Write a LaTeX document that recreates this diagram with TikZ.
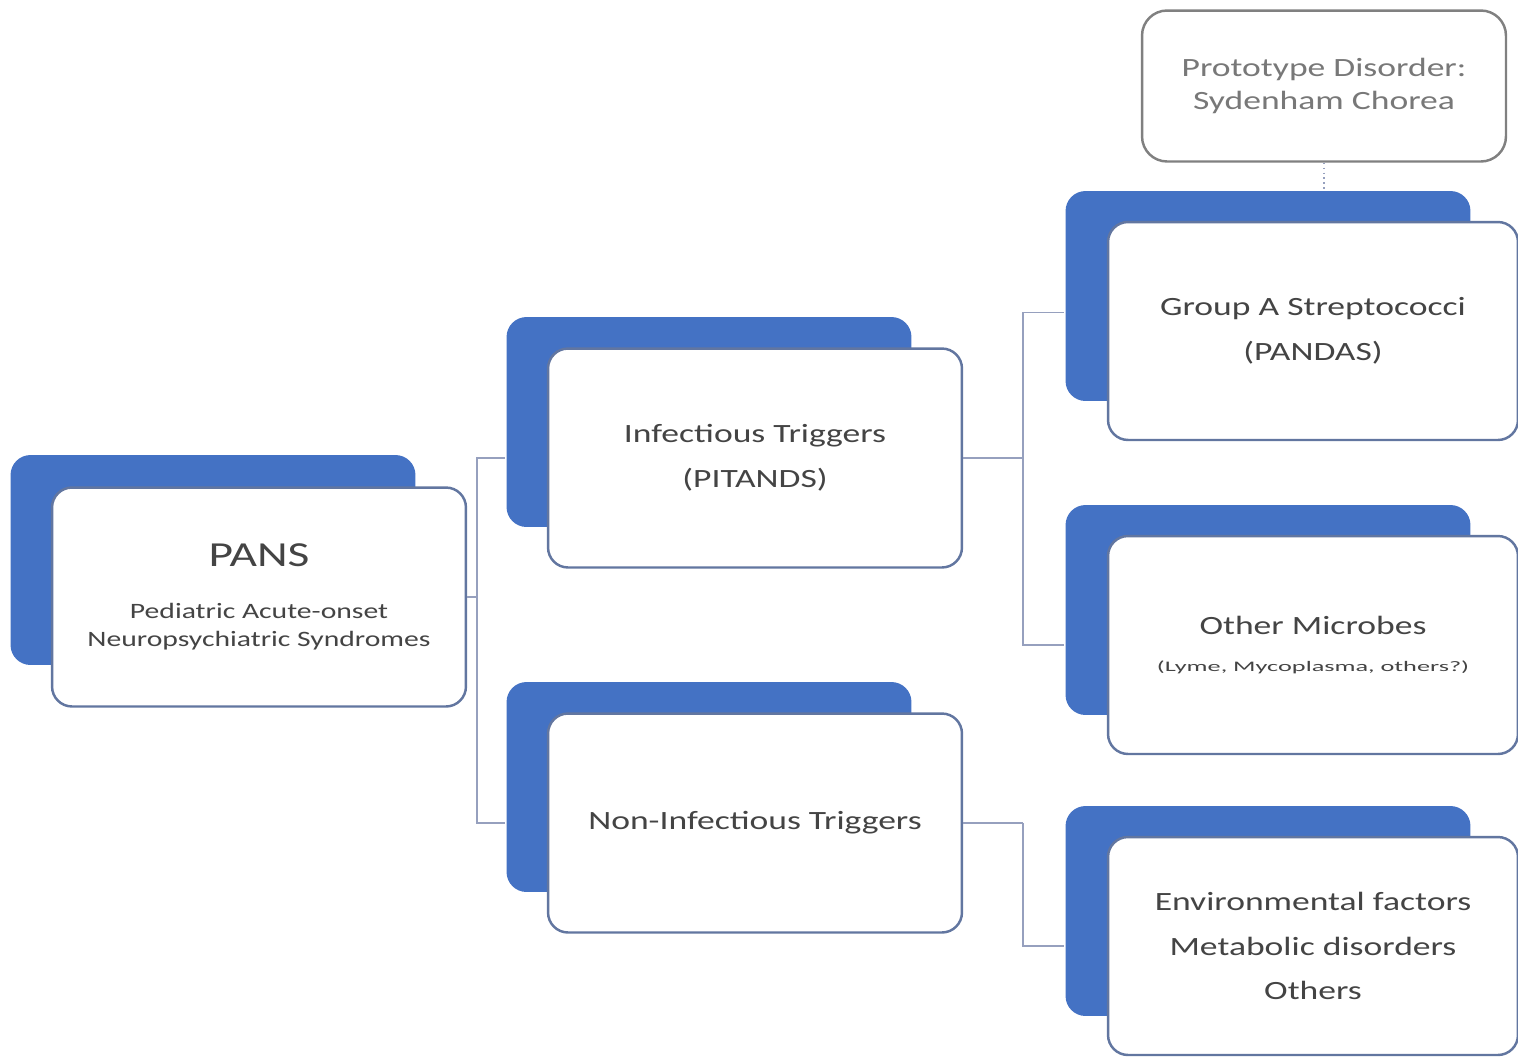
\documentclass[tikz,border=0pt]{standalone}
\usepackage{fontspec}
\setmainfont[FakeStretch=1.35]{Carlito}
\newfontfamily\widefont[FakeStretch=1.8]{Carlito}
\definecolor{backblue}{RGB}{68,114,196}
\definecolor{frameblue}{RGB}{98,118,160}
\definecolor{linkgray}{RGB}{150,160,190}
\definecolor{textgray}{RGB}{68,68,68}
\definecolor{protogray}{RGB}{120,120,120}
\begin{document}
\begin{tikzpicture}[x=0.02cm, y=-0.02cm, line width=1.4pt, every node/.style = {align=center, text=textgray, font=\fontsize{15}{25.5}\selectfont}]
	\tikzstyle{back} = [fill=backblue, rounded corners=0.4cm, minimum width=8.1cm, minimum height=4.2cm]
	\tikzstyle{front} = [fill=white, draw=frameblue, rounded corners=0.4cm, minimum width=8.28cm, minimum height=4.38cm]
	\tikzstyle{frontr} = [front, minimum width=8.2cm, minimum height=4.36cm]
	\tikzstyle{proto} = [fill=white, draw=gray, rounded corners=0.5cm, minimum width=7.28cm, minimum height=3.02cm, text=protogray, font=\fontsize{15}{19}\selectfont]
	\tikzstyle{link} = [draw=linkgray, line width=0.8pt]
	\newcommand{\subline}{\fontsize{12.5}{16}\selectfont}
	\newcommand{\tinyline}{\widefont\fontsize{8.3}{10}\selectfont}
	\useasboundingbox (0,0) rectangle (1518,1056);
	% left column
	\node[back] (pansbk) at (213,560) {};
	\node[front] (pans) at (259,597) {\fontsize{20}{24}\selectfont PANS\\[4pt]\subline Pediatric Acute-onset\\[-9.5pt]\subline Neuropsychiatric Syndromes};
	% middle column
	\node[back] (infbk) at (709,422) {};
	\node[front] (inf) at (755,458) {Infectious Triggers\\(PITANDS)};
	\node[back] (nonbk) at (709,787) {};
	\node[front] (non) at (755,823) {Non-Infectious Triggers};
	% right column
	\node[proto] (proto) at (1324,86) {Prototype Disorder:\\Sydenham Chorea};
	\node[back] (grpbk) at (1268,296) {};
	\node[frontr] (grp) at (1313,331) {Group A Streptococci\\(PANDAS)};
	\node[back] (othbk) at (1268,610) {};
	\node[frontr] (oth) at (1313,645) {Other Microbes\\[-4pt]\tinyline (Lyme, Mycoplasma, others?)};
	\node[back] (envbk) at (1268,911) {};
	\node[frontr] (env) at (1313,946) {Environmental factors\\Metabolic disorders\\Others};
	% connectors
	\draw[link] (pans.east) -- ++(10,0) coordinate (busa);
	\draw[link] (busa) |- (infbk.west |- inf.center);
	\draw[link] (busa) |- (nonbk.west |- non.center);
	\draw[link] (inf.east) -- ++(60,0) coordinate (busb);
	\draw[link] (busb) |- ([yshift=-0.33cm]grpbk.west);
	\draw[link] (busb) |- (othbk.west |- oth.center);
	\draw[link] (non.east) -- ++(60,0) coordinate (busc);
	\draw[link] (busc) |- (envbk.west |- env.center);
	\draw[link, dotted] (proto.south) -- (proto.south |- grpbk.north);
\end{tikzpicture}
\end{document}
